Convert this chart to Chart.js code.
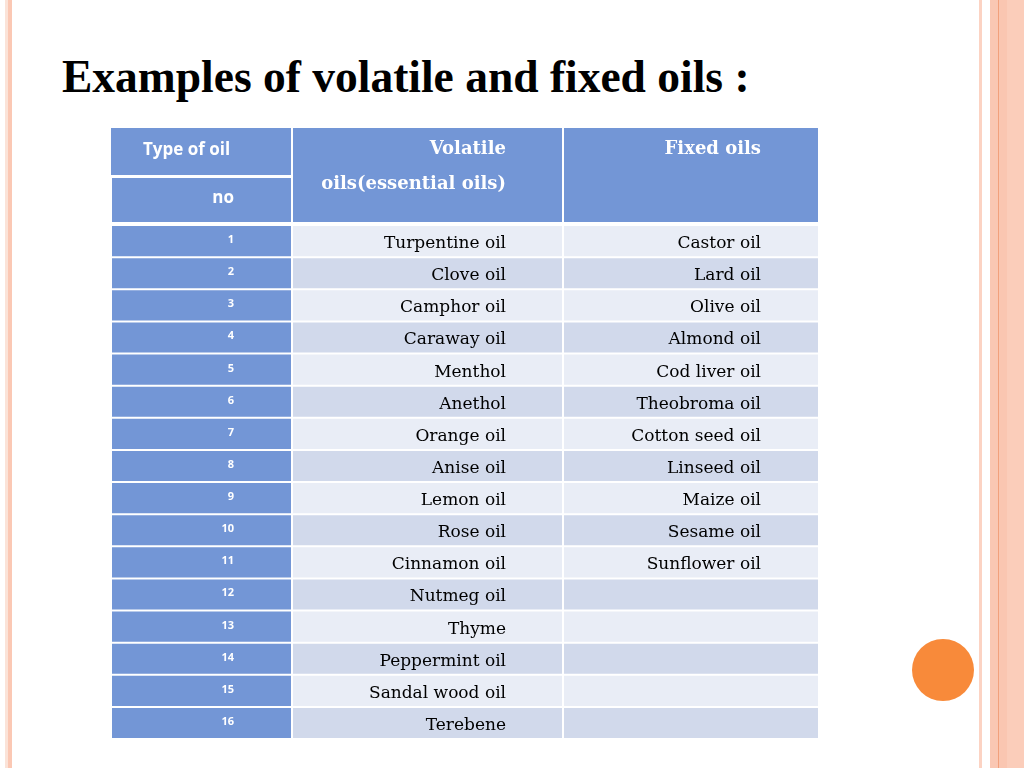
<!DOCTYPE html>
<html>
<head>
<meta charset="utf-8">
<script src="https://cdn.jsdelivr.net/npm/chart.js@4.4.1/dist/chart.umd.min.js"></script>
<style>
  html, body { margin: 0; padding: 0; background: #ffffff; }
  body { width: 1024px; height: 768px; position: relative; overflow: hidden; }
  .deco { position: absolute; top: 0; height: 768px; }
  #title { position: absolute; left: 62px; top: 54px; margin: 0; font-family: "Liberation Serif", serif; font-weight: bold; font-size: 45.5px; line-height: 1; color: #000; white-space: nowrap; }
  #headerWrap { position: absolute; left: 111px; top: 127px; width: 708px; height: 96px; }
  #bodyWrap { position: absolute; left: 111px; top: 225px; width: 708px; height: 514px; }
  #dot { position: absolute; left: 912px; top: 639px; width: 62px; height: 62px; border-radius: 50%; background: #F88A3A; }
</style>
</head>
<body>
<div class="deco" style="left:5px;width:3px;background:#FBE3D8;"></div>
<div class="deco" style="left:8px;width:4px;background:#FBC8B4;"></div>
<div class="deco" style="left:979px;width:3px;background:#FCD3C3;"></div>
<div class="deco" style="left:990px;width:8px;background:#FAC7B3;"></div>
<div class="deco" style="left:998px;width:1px;background:#F2A07C;"></div>
<div class="deco" style="left:999px;width:8px;background:#FAC6B1;"></div>
<div class="deco" style="left:1007px;width:17px;background:#FBCDBA;"></div>
<div id="dot"></div>

<h1 id="title">Examples of volatile and fixed oils :</h1>

<div id="headerWrap"><canvas id="headerChart" width="708" height="96"></canvas></div>
<div id="bodyWrap"><canvas id="bodyChart" width="708" height="514"></canvas></div>

<script>
// ---- data ----
const headerNumberLabels = ['Type of oil', 'no'];
const headerVolatile = ['Volatile', 'oils(essential oils)'];
const headerFixed = ['Fixed oils', ''];
const rowNumbers = ['1','2','3','4','5','6','7','8','9','10','11','12','13','14','15','16'];
const volatileOils = ['Turpentine oil','Clove oil','Camphor oil','Caraway oil','Menthol','Anethol','Orange oil','Anise oil','Lemon oil','Rose oil','Cinnamon oil','Nutmeg oil','Thyme','Peppermint oil','Sandal wood oil','Terebene'];
const fixedOils = ['Castor oil','Lard oil','Olive oil','Almond oil','Cod liver oil','Theobroma oil','Cotton seed oil','Linseed oil','Maize oil','Sesame oil','Sunflower oil','','','','',''];

// ---- layout (not data) ----
const colWidths = [181, 271, 256];
const totalWidth = colWidths.reduce((a, b) => a + b, 0);
const BLUE = '#7396D6';
const LIGHT = '#E9EDF6';
const DARK = '#D1D9EB';

function baseOptions() {
  return {
    indexAxis: 'y',
    responsive: false,
    animation: false,
    events: [],
    layout: { padding: 0 },
    plugins: { legend: { display: false }, tooltip: { enabled: false }, title: { display: false } },
    scales: {
      x: { type: 'linear', stacked: true, min: 0, max: totalWidth, display: false },
      y: { type: 'category', stacked: true, display: false }
    }
  };
}

// ---- header chart ----
const headerTextPlugin = {
  id: 'headerText',
  afterDatasetsDraw(chart) {
    const ctx = chart.ctx;
    ctx.save();
    ctx.fillStyle = '#ffffff';
    ctx.textBaseline = 'alphabetic';
    const m0 = chart.getDatasetMeta(0).data;
    const m1 = chart.getDatasetMeta(1).data;
    const m2 = chart.getDatasetMeta(2).data;
    ctx.font = 'bold 17px "Open Sans", sans-serif';
    ctx.textAlign = 'left';
    ctx.fillText(headerNumberLabels[0], m0[0].base + 32, m0[0].y + 4);
    ctx.textAlign = 'right';
    ctx.fillText(headerNumberLabels[1], m0[1].x - 58, m0[1].y + 4);
    ctx.font = 'bold 18px "DejaVu Serif", serif';
    ctx.fillText(headerVolatile[0], m1[0].x - 57, m1[0].y + 3);
    ctx.fillText(headerVolatile[1], m1[1].x - 57, m1[1].y - 10);
    ctx.fillText(headerFixed[0], m2[0].x - 58, m2[0].y + 3);
    ctx.restore();
  }
};

new Chart(document.getElementById('headerChart'), {
  type: 'bar',
  data: {
    labels: headerNumberLabels,
    datasets: colWidths.map((w, k) => ({
      data: headerNumberLabels.map(() => w),
      backgroundColor: BLUE,
      borderColor: '#ffffff',
      borderSkipped: false,
      inflateAmount: 0,
      barPercentage: 1,
      categoryPercentage: 1,
      borderWidth: (c) => {
        const i = c.dataIndex;
        if (k === 0) {
          return i === 0 ? { top: 1, bottom: 0, left: 0, right: 1 } : { top: 3, bottom: 1, left: 1, right: 1 };
        }
        return i === 0 ? { top: 1, bottom: 0, left: 1, right: 1 } : { top: 0, bottom: 1, left: 1, right: 1 };
      }
    }))
  },
  options: baseOptions(),
  plugins: [headerTextPlugin]
});

// ---- body chart ----
const bodyTextPlugin = {
  id: 'bodyText',
  afterDatasetsDraw(chart) {
    const ctx = chart.ctx;
    ctx.save();
    ctx.textBaseline = 'alphabetic';
    ctx.textAlign = 'right';
    const m0 = chart.getDatasetMeta(0).data;
    const m1 = chart.getDatasetMeta(1).data;
    const m2 = chart.getDatasetMeta(2).data;
    rowNumbers.forEach((n, j) => {
      ctx.fillStyle = '#ffffff';
      ctx.font = 'bold 11px "Open Sans", sans-serif';
      ctx.fillText(n, m0[j].x - 58, m0[j].y + 2);
      ctx.fillStyle = '#000000';
      ctx.font = '17px "DejaVu Serif", serif';
      ctx.fillText(volatileOils[j], m1[j].x - 57, m1[j].y + 7);
      if (fixedOils[j]) ctx.fillText(fixedOils[j], m2[j].x - 58, m2[j].y + 7);
    });
    ctx.restore();
  }
};

new Chart(document.getElementById('bodyChart'), {
  type: 'bar',
  data: {
    labels: rowNumbers,
    datasets: colWidths.map((w, k) => ({
      data: rowNumbers.map(() => w),
      backgroundColor: (c) => k === 0 ? BLUE : (c.dataIndex % 2 === 0 ? LIGHT : DARK),
      borderColor: '#ffffff',
      borderWidth: 1,
      borderSkipped: false,
      inflateAmount: 0,
      barPercentage: 1,
      categoryPercentage: 1
    }))
  },
  options: baseOptions(),
  plugins: [bodyTextPlugin]
});
</script>
</body>
</html>
